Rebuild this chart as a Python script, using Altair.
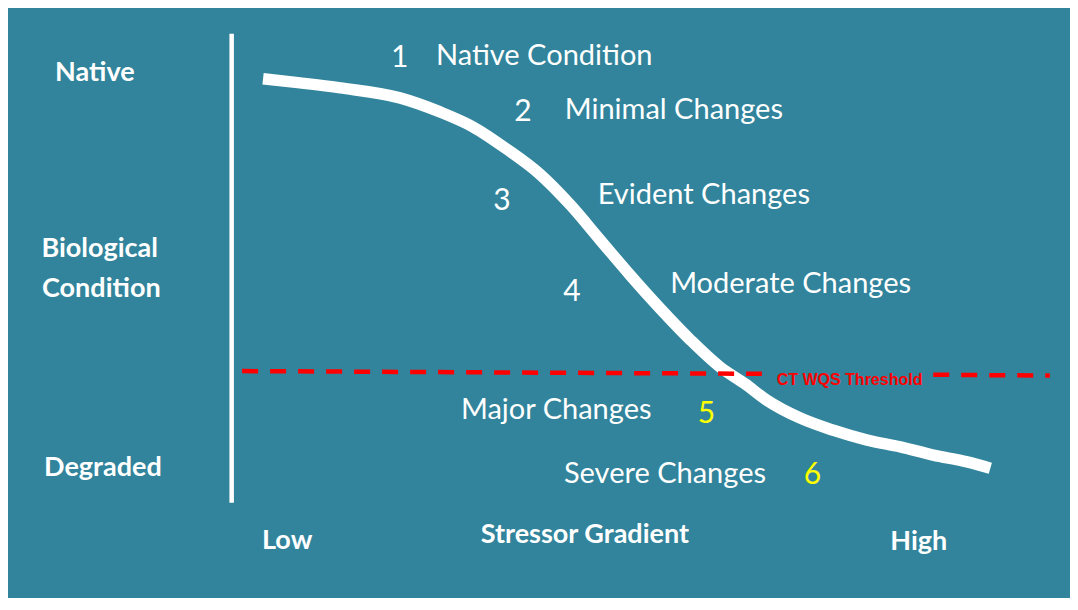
import altair as alt
import pandas as pd

# ---- data (x: stressor gradient units, y: biological condition units) ----
curve_x = [3.7, 8.3, 13.3, 20.7, 25.7, 29.8, 34.0, 38.1, 41.9, 45.6, 49.3, 53.0,
           56.8, 60.5, 63.6, 66.3, 70.4, 74.5, 78.8, 82.9, 87.0, 91.2, 94.1]
curve_y = [94.4, 93.5, 92.4, 90.2, 87.1, 83.8, 78.9, 73.4, 66.6, 58.9, 51.2, 43.9,
           36.9, 30.9, 27.2, 23.6, 19.7, 17.0, 14.8, 13.3, 11.5, 10.0, 8.6]

axis_x = [-0.2]
axis_y = [1.0]
axis_y2 = [104.3]

thr_x = [1.1, 65.7, 87.0, 101.5]
thr_y = [30.0, 29.4, 29.2, 29.0]
thr_seg = ["a", "a", "b", "b"]
thr_label = ["CT WQS Threshold"]
thr_label_x = [76.6]
thr_label_y = [26.9]

stage_text = ["Native Condition", "Minimal Changes", "Evident Changes",
              "Moderate Changes", "Major Changes", "Severe Changes"]
stage_x = [25.2, 41.2, 45.3, 54.3, 28.3, 41.1]
stage_y = [97.4, 85.5, 66.8, 47.2, 19.4, 5.3]

num_text = ["1", "2", "3", "4", "5", "6"]
num_x = [20.7, 36.0, 33.4, 42.1, 58.8, 72.0]
num_y = [97.0, 85.1, 65.5, 45.4, 18.6, 5.1]
num_group = ["upper", "upper", "upper", "upper", "lower", "lower"]

axis_text = ["Native", "Biological", "Condition", "Degraded",
             "Low", "Stressor Gradient", "High"]
axis_text_x = [-17.2, -16.6, -16.4, -16.2, 6.7, 43.7, 85.2]
axis_text_y = [93.9, 55.1, 46.3, 6.9, -9.2, -7.9, -9.4]

TEAL = "#31849B"

xs = alt.Scale(domain=[-28, 104], nice=False, zero=False)
ys = alt.Scale(domain=[-20, 110], nice=False, zero=False)
X = alt.X("x:Q", scale=xs, axis=None)
Y = alt.Y("y:Q", scale=ys, axis=None)

curve_df = pd.DataFrame({"x": curve_x, "y": curve_y})
axis_df = pd.DataFrame({"x": axis_x, "y": axis_y, "y2": axis_y2})
thr_df = pd.DataFrame({"x": thr_x, "y": thr_y, "seg": thr_seg})
thr_lab_df = pd.DataFrame({"x": thr_label_x, "y": thr_label_y, "t": thr_label})
stage_df = pd.DataFrame({"x": stage_x, "y": stage_y, "t": stage_text})
num_df = pd.DataFrame({"x": num_x, "y": num_y, "t": num_text, "g": num_group})
ax_df = pd.DataFrame({"x": axis_text_x, "y": axis_text_y, "t": axis_text})

vline = alt.Chart(axis_df).mark_rule(color="white", strokeWidth=4.5).encode(
    x=X, y=Y, y2="y2:Q")

curve = alt.Chart(curve_df).mark_line(
    color="white", strokeWidth=11.5, strokeCap="butt", interpolate="monotone"
).encode(x=X, y=Y, order="x:Q")

thr = alt.Chart(thr_df).mark_line(
    color="#FF0000", strokeWidth=4.5, strokeDash=[16, 12], strokeCap="butt"
).encode(x=X, y=Y, detail="seg:N")

thr_lab = alt.Chart(thr_lab_df).mark_text(
    color="#FF0000", font="Liberation Sans", fontWeight="bold", fontSize=16,
    align="center", baseline="alphabetic"
).encode(x=X, y=Y, text="t:N")

stages = alt.Chart(stage_df).mark_text(
    color="white", font="Lato", fontSize=29, align="left", baseline="alphabetic"
).encode(x=X, y=Y, text="t:N")

nums = alt.Chart(num_df).mark_text(
    font="Lato", fontSize=30, align="center", baseline="alphabetic"
).encode(
    x=X, y=Y, text="t:N",
    color=alt.Color("g:N", scale=alt.Scale(domain=["upper", "lower"],
                                           range=["white", "#FFFF00"]),
                    legend=None))

axlabs = alt.Chart(ax_df).mark_text(
    color="white", font="Lato", fontWeight="bold", fontSize=27,
    align="center", baseline="alphabetic"
).encode(x=X, y=Y, text="t:N")

chart = alt.layer(vline, curve, thr, thr_lab, stages, nums, axlabs).properties(
    width=1062, height=590, background=TEAL,
    padding=0, autosize=alt.AutoSizeParams(type="none")
).configure_view(stroke=None)

chart.save("out.html", embed_options={"renderer": "svg", "actions": False})
